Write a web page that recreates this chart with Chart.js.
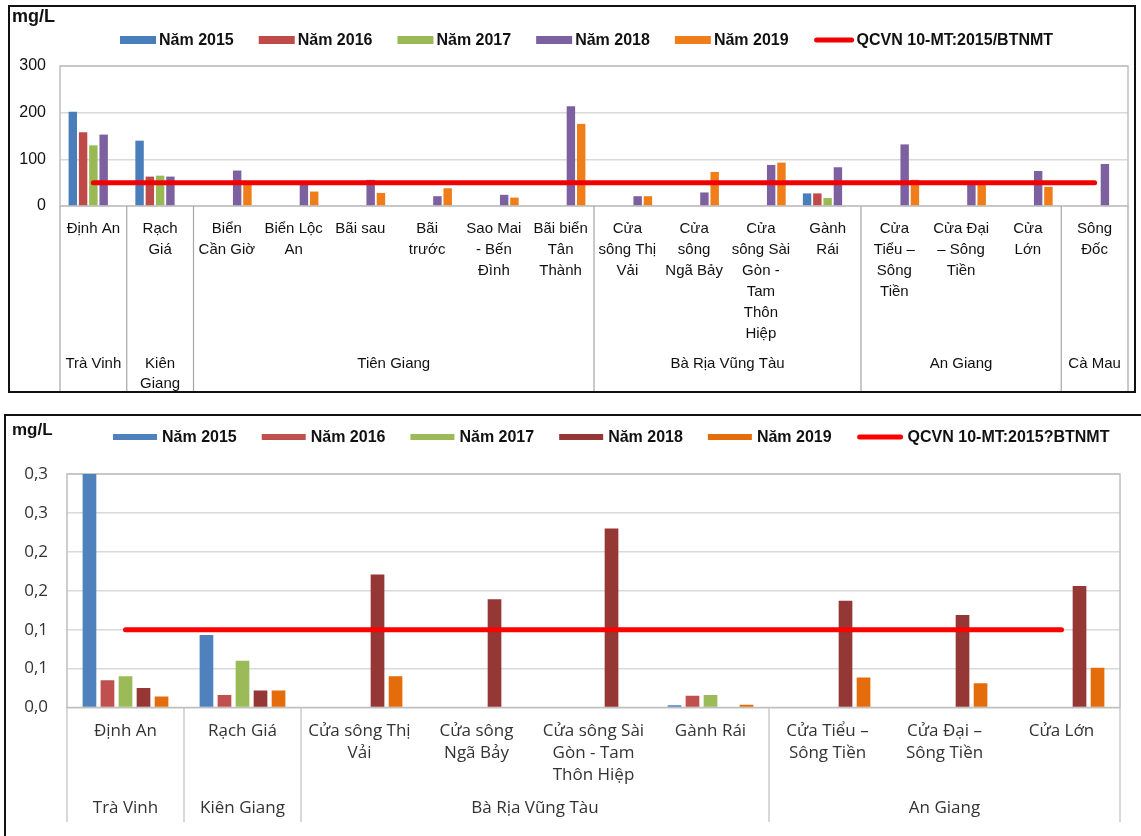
<!DOCTYPE html>
<html>
<head>
<meta charset="utf-8">
<script src="https://cdn.jsdelivr.net/npm/chart.js@4.4.1/dist/chart.umd.min.js"></script>
<style>
html,body{margin:0;padding:0;background:#fff;overflow:hidden;width:1141px;height:836px}
.box{position:absolute;border:2px solid #111;box-sizing:border-box;background:#fff;overflow:hidden}
#box1{left:8px;top:5px;width:1128px;height:388px}
#box2{left:4px;top:414px;width:1150px;height:430px}
canvas{display:block}
</style>
</head>
<body>
<div class="box" id="box1"><canvas id="c1" width="1124" height="384"></canvas></div>
<div class="box" id="box2"><canvas id="c2" width="1146" height="426"></canvas></div>
<script>
// ---- chart 1 (mg/L, 0-300) ----
const cats1 = [['Định An'],['Rạch','Giá'],['Biển','Cần Giờ'],['Biển Lộc','An'],['Bãi sau'],['Bãi','trước'],
  ['Sao Mai','- Bến','Đình'],['Bãi biển','Tân','Thành'],['Cửa','sông Thị','Vải'],['Cửa','sông','Ngã Bảy'],
  ['Cửa','sông Sài','Gòn -','Tam','Thôn','Hiệp'],['Gành','Rái'],['Cửa','Tiểu –','Sông','Tiền'],['Cửa Đại','– Sông','Tiền'],
  ['Cửa','Lớn'],['Sông','Đốc']];
const groups1 = [['Trà Vinh'],['Kiên','Giang'],['Tiên Giang'],['Bà Rịa Vũng Tàu'],['An Giang'],['Cà Mau']];
const groupSizes1 = [1,1,6,4,3,1];
const a2015 = [202,140,null,null,null,null,null,null,null,null,null,27,null,null,null,null];
const a2016 = [158,63,null,null,null,null,null,null,null,null,null,27,null,null,null,null];
const a2017 = [130,65,null,null,null,null,null,null,null,null,null,17,null,null,null,null];
const a2018 = [153,63,76,47,56,21,24,214,21,29,88,83,132,48,75,90];
const a2019 = [null,null,48,31,28,38,18,176,21,73,93,null,56,49,41,null];
const aQcvn = [50,50,50,50,50,50,50,50,50,50,50,50,50,50,50,50];
const yTicks1 = [0,100,200,300];

// ---- chart 2 (mg/L, 0-0.3) ----
const cats2 = [['Định An'],['Rạch Giá'],['Cửa sông Thị','Vải'],['Cửa sông','Ngã Bảy'],['Cửa sông Sài','Gòn - Tam','Thôn Hiệp'],
  ['Gành Rái'],['Cửa Tiểu –','Sông Tiền'],['Cửa Đại –','Sông Tiền'],['Cửa Lớn']];
const groups2 = [['Trà Vinh'],['Kiên Giang'],['Bà Rịa Vũng Tàu'],['An Giang']];
const groupSizes2 = [1,1,4,3];
const b2015 = [0.30,0.093,null,null,null,0.003,null,null,null];
const b2016 = [0.035,0.016,null,null,null,0.015,null,null,null];
const b2017 = [0.040,0.060,null,null,null,0.016,null,null,null];
const b2018 = [0.025,0.022,0.171,0.139,0.230,null,0.137,0.119,0.156];
const b2019 = [0.014,0.022,0.040,null,null,0.0035,0.0385,0.031,0.051];
const bQcvn = [0.1,0.1,0.1,0.1,0.1,0.1,0.1,0.1,0.1];
const yTicks2 = ['0,0','0,1','0,1','0,2','0,2','0,3','0,3'];

const ARIAL = "'Liberation Sans', Arial, sans-serif";
const NARROW = "'Liberation Sans Narrow', 'Open Sans', sans-serif";

// frame, group separators/labels, unit and legend
const decor = {
  id: 'decor',
  beforeDatasetsDraw(chart, args, o) {
    const {ctx, chartArea: a, scales: {x}} = chart;
    const half = (x.getPixelForValue(1) - x.getPixelForValue(0)) / 2;
    ctx.save();
    ctx.strokeStyle = o.frameColor; ctx.lineWidth = 1.5;
    ctx.strokeRect(a.left, a.top, a.right - a.left, a.bottom - a.top);
    ctx.strokeStyle = o.sepColor; ctx.lineWidth = 1.2;
    ctx.beginPath();
    let i0 = 0;
    const edges = [x.getPixelForValue(0) - half];
    o.sizes.forEach(n => { i0 += n; edges.push(x.getPixelForValue(i0 - 1) + half); });
    edges.forEach(e => { ctx.moveTo(e, a.bottom); ctx.lineTo(e, o.sepBottom); });
    ctx.stroke();
    ctx.restore();
  },
  afterDraw(chart, args, o) {
    const {ctx, scales: {x}} = chart;
    const half = (x.getPixelForValue(1) - x.getPixelForValue(0)) / 2;
    ctx.save();
    ctx.fillStyle = o.textColor; ctx.font = o.groupFont;
    ctx.textAlign = 'center'; ctx.textBaseline = 'middle';
    let i0 = 0;
    o.groups.forEach((g, gi) => {
      const n = o.sizes[gi];
      const l = x.getPixelForValue(i0) - half, r = x.getPixelForValue(i0 + n - 1) + half;
      g.forEach((line, li) => ctx.fillText(line, (l + r) / 2, o.groupY + li * o.groupLH));
      i0 += n;
    });
    // unit
    ctx.textAlign = 'left'; ctx.fillStyle = '#111';
    ctx.font = o.unitFont;
    ctx.fillText('mg/L', o.unitX, o.unitY);
    // legend
    const L = o.legend;
    ctx.font = L.font;
    let lx = L.x;
    chart.data.datasets.forEach(ds => {
      let w;
      if (ds.type === 'line') {
        w = L.lineW;
        ctx.strokeStyle = ds.borderColor; ctx.lineWidth = 5; ctx.lineCap = 'round';
        ctx.beginPath(); ctx.moveTo(lx + 3, L.y); ctx.lineTo(lx + w - 2, L.y); ctx.stroke();
      } else {
        w = L.boxW;
        ctx.fillStyle = ds.backgroundColor;
        ctx.fillRect(lx, L.y - L.boxH / 2, w, L.boxH);
      }
      ctx.fillStyle = '#111';
      ctx.fillText(ds.label, lx + w + L.textGap, L.y + 1);
      lx += w + L.textGap + ctx.measureText(ds.label).width + L.gap;
    });
    ctx.restore();
  }
};

function barSet(label, data, color) {
  return {type: 'bar', label, data, backgroundColor: color, order: 1};
}

new Chart(document.getElementById('c1'), {
  data: {
    labels: cats1,
    datasets: [
      barSet('Năm 2015', a2015, '#4a7ebb'),
      barSet('Năm 2016', a2016, '#be4b48'),
      barSet('Năm 2017', a2017, '#98b954'),
      barSet('Năm 2018', a2018, '#7d60a0'),
      barSet('Năm 2019', a2019, '#ef7d1a'),
      {type: 'line', label: 'QCVN 10-MT:2015/BTNMT', data: aQcvn, borderColor: '#f00000', backgroundColor: '#f00000',
       borderWidth: 5, pointRadius: 0, borderCapStyle: 'round', order: 0}
    ]
  },
  options: {
    responsive: false, animation: false,
    datasets: {bar: {categoryPercentage: 0.77, barPercentage: 0.82}},
    layout: {padding: {top: 59, right: 6, left: 0, bottom: 0}},
    plugins: {
      legend: {display: false}, tooltip: {enabled: false},
      decor: {
        frameColor: '#bfbfbf', sepColor: '#a6a6a6', sepBottom: 384, textColor: '#111',
        groups: groups1, sizes: groupSizes1, groupFont: '15px ' + ARIAL, groupY: 357, groupLH: 19.5,
        unitFont: 'bold 18px ' + ARIAL, unitX: 2, unitY: 10,
        legend: {x: 110, y: 33, boxW: 36, boxH: 8, lineW: 40, textGap: 3, gap: 25, font: 'bold 16px ' + ARIAL}
      }
    },
    scales: {
      x: {
        grid: {display: false, drawTicks: false}, border: {display: false},
        ticks: {autoSkip: false, maxRotation: 0, padding: 12, color: '#111', font: {family: ARIAL, size: 15, lineHeight: 1.4}},
        afterFit: s => { s.height = 185; }
      },
      y: {
        min: 0, max: 300,
        grid: {color: '#d9d9d9', lineWidth: 1.5, drawTicks: false}, border: {display: false},
        afterBuildTicks: s => { s.ticks = yTicks1.map(v => ({value: v})); },
        ticks: {padding: 14, color: '#111', font: {family: ARIAL, size: 16}},
        afterFit: s => { s.width = 50; }
      }
    }
  },
  plugins: [decor]
});

new Chart(document.getElementById('c2'), {
  data: {
    labels: cats2,
    datasets: [
      barSet('Năm 2015', b2015, '#4f81bd'),
      barSet('Năm 2016', b2016, '#c0504d'),
      barSet('Năm 2017', b2017, '#9bbb59'),
      barSet('Năm 2018', b2018, '#953735'),
      barSet('Năm 2019', b2019, '#e46c0a'),
      {type: 'line', label: 'QCVN 10-MT:2015?BTNMT', data: bQcvn, borderColor: '#ff0000', backgroundColor: '#ff0000',
       borderWidth: 5, pointRadius: 0, borderCapStyle: 'round', order: 0}
    ]
  },
  options: {
    responsive: false, animation: false,
    datasets: {bar: {categoryPercentage: 0.77, barPercentage: 0.76}},
    layout: {padding: {top: 58, right: 32, left: 0, bottom: 0}},
    plugins: {
      legend: {display: false}, tooltip: {enabled: false},
      decor: {
        frameColor: '#bfbfbf', sepColor: '#bfbfbf', sepBottom: 406, textColor: '#333',
        groups: groups2, sizes: groupSizes2, groupFont: '17px ' + NARROW, groupY: 392, groupLH: 22,
        unitFont: 'bold 17px ' + ARIAL, unitX: 6, unitY: 14,
        legend: {x: 107, y: 21, boxW: 44, boxH: 6, lineW: 46, textGap: 5, gap: 25, font: 'bold 16px ' + ARIAL}
      }
    },
    scales: {
      x: {
        grid: {display: false, drawTicks: false}, border: {display: false},
        ticks: {autoSkip: false, maxRotation: 0, padding: 12, color: '#333', font: {family: NARROW, size: 17, lineHeight: 1.32}},
        afterFit: s => { s.height = 134.5; }
      },
      y: {
        min: 0, max: 0.3,
        grid: {color: '#d9d9d9', lineWidth: 1.5, drawTicks: false}, border: {display: false},
        afterBuildTicks: s => { s.ticks = yTicks2.map((t, i) => ({value: i * 0.05})); },
        ticks: {padding: 19, color: '#333', font: {family: NARROW, size: 17}, callback: (v, i) => yTicks2[i]},
        afterFit: s => { s.width = 61; }
      }
    }
  },
  plugins: [decor]
});
</script>
</body>
</html>
